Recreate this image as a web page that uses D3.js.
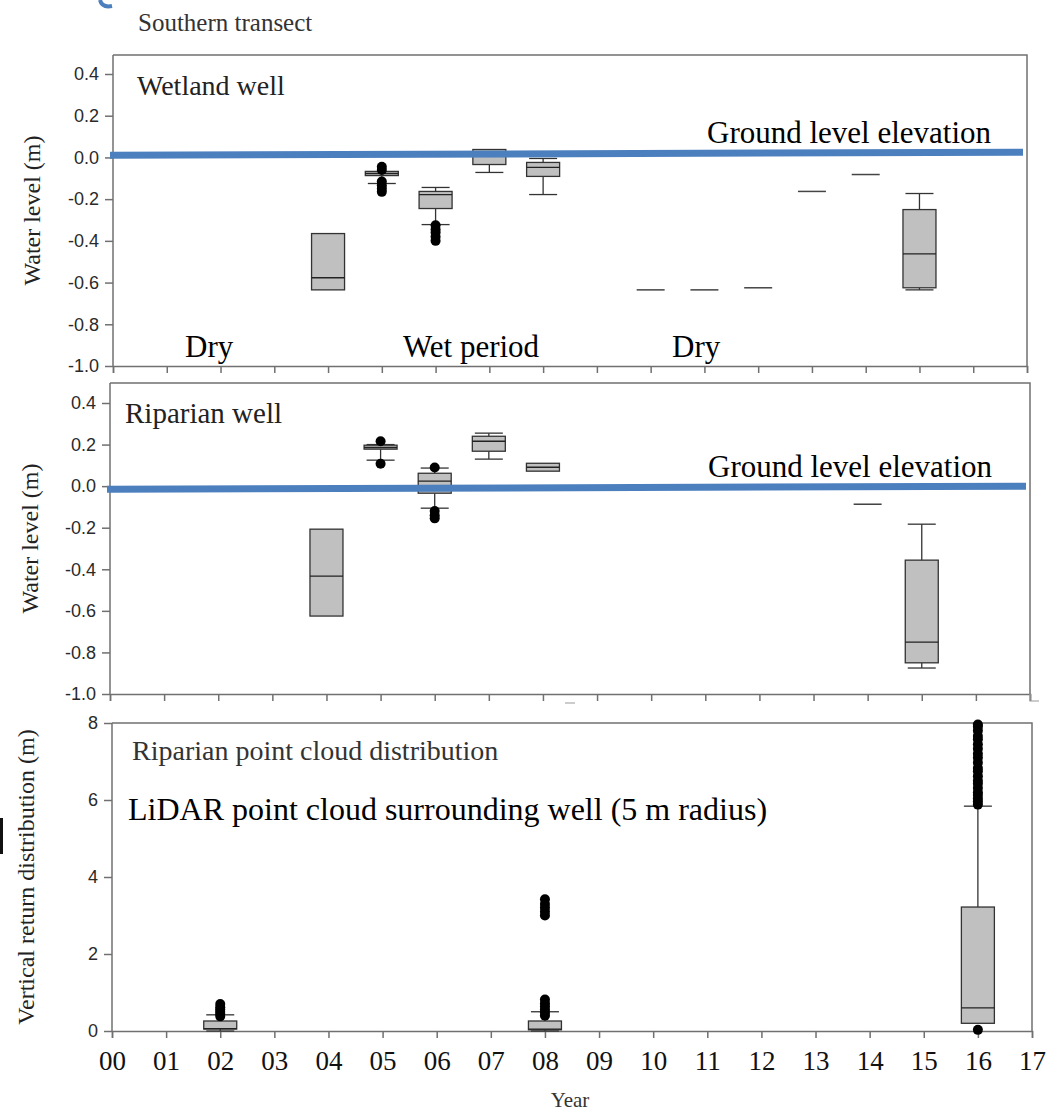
<!DOCTYPE html>
<html>
<head>
<meta charset="utf-8">
<script src="https://cdn.jsdelivr.net/npm/d3@7"></script>
<style>
  body { margin: 0; background: #fff; }
  svg { display: block; }
</style>
</head>
<body>
<svg id="chart" width="1055" height="1115"></svg>
<script>
// year ticks shared by every panel
var yearLabels = ["00", "01", "02", "03", "04", "05", "06", "07", "08", "09",
  "10", "11", "12", "13", "14", "15", "16", "17"];
var levelTicks = [-1.0, -0.8, -0.6, -0.4, -0.2, 0.0, 0.2, 0.4];
var returnTicks = [0, 2, 4, 6, 8];

// ground level line (value at left edge, value at right edge)
var wetlandGround = [0.01, 0.025];
var riparianGround = [-0.015, 0.0];

// box stats
var wetlandBoxes = [
  { year: 4, min: -0.635, q1: -0.635, med: -0.577, q3: -0.365, max: -0.365, out: [] },
  { year: 5, min: -0.125, q1: -0.087, med: -0.077, q3: -0.067, max: -0.067, out: [-0.045, -0.06, -0.115, -0.135, -0.15, -0.165] },
  { year: 6, min: -0.322, q1: -0.245, med: -0.178, q3: -0.163, max: -0.144, out: [-0.325, -0.345, -0.36, -0.38, -0.4] },
  { year: 7, min: -0.072, q1: -0.034, med: 0.01, q3: 0.038, max: 0.038, out: [] },
  { year: 8, min: -0.178, q1: -0.091, med: -0.048, q3: -0.024, max: -0.005, out: [] },
  { year: 10, min: -0.635, q1: -0.635, med: -0.635, q3: -0.635, max: -0.635, out: [] },
  { year: 11, min: -0.635, q1: -0.635, med: -0.635, q3: -0.635, max: -0.635, out: [] },
  { year: 12, min: -0.625, q1: -0.625, med: -0.625, q3: -0.625, max: -0.625, out: [] },
  { year: 13, min: -0.163, q1: -0.163, med: -0.163, q3: -0.163, max: -0.163, out: [] },
  { year: 14, min: -0.082, q1: -0.082, med: -0.082, q3: -0.082, max: -0.082, out: [] },
  { year: 15, min: -0.635, q1: -0.625, med: -0.462, q3: -0.25, max: -0.173, out: [] }
];

var riparianBoxes = [
  { year: 4, min: -0.625, q1: -0.625, med: -0.433, q3: -0.207, max: -0.207, out: [] },
  { year: 5, min: 0.125, q1: 0.178, med: 0.186, q3: 0.197, max: 0.2, out: [0.216, 0.108] },
  { year: 6, min: -0.106, q1: -0.034, med: 0.024, q3: 0.062, max: 0.087, out: [0.09, -0.12, -0.14, -0.155] },
  { year: 7, min: 0.13, q1: 0.168, med: 0.216, q3: 0.24, max: 0.255, out: [] },
  { year: 8, min: 0.072, q1: 0.072, med: 0.091, q3: 0.11, max: 0.11, out: [] },
  { year: 14, min: -0.087, q1: -0.087, med: -0.087, q3: -0.087, max: -0.087, out: [] },
  { year: 15, min: -0.875, q1: -0.85, med: -0.75, q3: -0.356, max: -0.183, out: [] }
];

var cloudBoxes = [
  { year: 2, min: 0.0, q1: 0.05, med: 0.06, q3: 0.26, max: 0.42, out: [0.38, 0.45, 0.5, 0.56, 0.62, 0.7] },
  { year: 8, min: 0.0, q1: 0.03, med: 0.05, q3: 0.26, max: 0.5, out: [0.4, 0.48, 0.56, 0.64, 0.72, 0.82, 3.0, 3.1, 3.2, 3.3, 3.42] },
  { year: 16, min: 0.2, q1: 0.2, med: 0.6, q3: 3.22, max: 5.84, out: [0.03, 5.88, 5.96, 6.04, 6.13, 6.2, 6.31, 6.42, 6.5, 6.62, 6.75, 6.83, 6.97, 7.1, 7.2, 7.33, 7.45, 7.58, 7.66, 7.8, 7.9, 7.96] }
];

var svg = d3.select("#chart");
var serif = "'Liberation Serif', 'Times New Roman', serif";
var sans = "'Liberation Sans', Arial, sans-serif";
var axisColor = "#707070";
var blue = "#4c7fbe";

function drawPanel(p) {
  var x = d3.scaleLinear().domain([0, 17]).range([p.left, p.right]);
  var y = d3.scaleLinear().domain(p.domain).range(p.yRange);
  var g = svg.append("g");

  // frame top + right
  g.append("path")
    .attr("d", "M" + p.left + "," + p.frameTop + "H" + p.right + "V" + y(p.domain[0]))
    .attr("fill", "none")
    .attr("stroke", axisColor)
    .attr("stroke-width", 1.5);

  var yAxis = g.append("g")
    .attr("transform", "translate(" + p.left + ",0)")
    .call(d3.axisLeft(y).tickValues(p.ticks).tickSize(8).tickPadding(6).tickFormat(p.fmt));
  yAxis.select(".domain").attr("d", "M0," + p.frameTop + "V" + y(p.domain[0]));

  var xAxis = g.append("g")
    .attr("transform", "translate(0," + y(p.domain[0]) + ")")
    .call(d3.axisBottom(x).tickValues(d3.range(0, 18)).tickSize(7).tickPadding(13)
      .tickFormat(function(d) { return p.showYears ? yearLabels[d] : ""; }));

  [yAxis, xAxis].forEach(function(a) {
    a.selectAll(".domain, line").attr("stroke", axisColor).attr("stroke-width", 1.5);
  });
  yAxis.selectAll("text")
    .attr("font-family", sans).attr("font-size", 18).attr("fill", "#2a2a2a");
  xAxis.selectAll("text")
    .attr("font-family", serif).attr("font-size", 27).attr("fill", "#111");

  var boxW = 33, capW = 28;
  var box = g.selectAll(".box").data(p.boxes).enter().append("g");

  box.each(function(d) {
    var s = d3.select(this), cx = x(d.year);
    var stroke = "#333";
    if (d.max > d.q3) {
      s.append("line").attr("x1", cx).attr("x2", cx).attr("y1", y(d.q3)).attr("y2", y(d.max))
        .attr("stroke", stroke).attr("stroke-width", 1.3);
      s.append("line").attr("x1", cx - capW / 2).attr("x2", cx + capW / 2).attr("y1", y(d.max)).attr("y2", y(d.max))
        .attr("stroke", stroke).attr("stroke-width", 1.3);
    }
    if (d.min < d.q1) {
      s.append("line").attr("x1", cx).attr("x2", cx).attr("y1", y(d.q1)).attr("y2", y(d.min))
        .attr("stroke", stroke).attr("stroke-width", 1.3);
      s.append("line").attr("x1", cx - capW / 2).attr("x2", cx + capW / 2).attr("y1", y(d.min)).attr("y2", y(d.min))
        .attr("stroke", stroke).attr("stroke-width", 1.3);
    }
    if (d.q3 > d.q1) {
      s.append("rect").attr("x", cx - boxW / 2).attr("width", boxW)
        .attr("y", y(d.q3)).attr("height", y(d.q1) - y(d.q3))
        .attr("fill", "#c0c0c0").attr("stroke", stroke).attr("stroke-width", 1.3);
      s.append("line").attr("x1", cx - boxW / 2).attr("x2", cx + boxW / 2).attr("y1", y(d.med)).attr("y2", y(d.med))
        .attr("stroke", "#222").attr("stroke-width", 1.3);
    } else {
      s.append("line").attr("x1", cx - capW / 2).attr("x2", cx + capW / 2).attr("y1", y(d.med)).attr("y2", y(d.med))
        .attr("stroke", "#444").attr("stroke-width", 1.5);
    }
    s.selectAll("circle").data(d.out).enter().append("circle")
      .attr("cx", cx).attr("cy", function(v) { return y(v); }).attr("r", 5).attr("fill", "#000");
  });

  if (p.ground) {
    g.append("line")
      .attr("x1", p.left - 3).attr("x2", p.right - 4)
      .attr("y1", y(p.ground[0])).attr("y2", y(p.ground[1]))
      .attr("stroke", blue).attr("stroke-width", 7);
  }

  g.append("text")
    .attr("transform", "translate(" + p.titleX + "," + (p.yRange[0] + p.frameTop) / 2 + ") rotate(-90)")
    .attr("text-anchor", "middle")
    .attr("font-family", serif).attr("font-size", 24).attr("fill", "#222")
    .text(p.yTitle);

  p.notes.forEach(function(n) {
    g.append("text").attr("x", n[0]).attr("y", n[1])
      .attr("font-family", serif).attr("font-size", n[2]).attr("fill", n[4] || "#000")
      .text(n[3]);
  });
}

var fmtLevel = function(d) { return d.toFixed(1); };

drawPanel({
  left: 113, right: 1027, frameTop: 55, domain: [-1, 0.4], yRange: [366, 74],
  ticks: levelTicks, fmt: fmtLevel, boxes: wetlandBoxes, ground: wetlandGround,
  showYears: false, titleX: 40, yTitle: "Water level (m)",
  notes: [
    [137, 95, 28, "Wetland well", "#222"],
    [707, 143, 31, "Ground level elevation"],
    [185, 357, 31, "Dry"],
    [403, 357, 31, "Wet period"],
    [672, 357, 31, "Dry"]
  ]
});

drawPanel({
  left: 110, right: 1030, frameTop: 383, domain: [-1, 0.4], yRange: [694, 403],
  ticks: levelTicks, fmt: fmtLevel, boxes: riparianBoxes, ground: riparianGround,
  showYears: false, titleX: 38, yTitle: "Water level (m)",
  notes: [
    [125, 423, 29, "Riparian well", "#222"],
    [708, 477, 31, "Ground level elevation"]
  ]
});

drawPanel({
  left: 112, right: 1032, frameTop: 723, domain: [0, 8], yRange: [1031, 723],
  ticks: returnTicks, fmt: d3.format("d"), boxes: cloudBoxes, ground: null,
  showYears: true, titleX: 34, yTitle: "Vertical return distribution (m)",
  notes: [
    [132, 760, 28, "Riparian point cloud distribution", "#333"],
    [128, 820, 32, "LiDAR point cloud surrounding well (5 m radius)"]
  ]
});

svg.append("text")
  .attr("x", 138).attr("y", 31)
  .attr("font-family", serif).attr("font-size", 25).attr("fill", "#333")
  .text("Southern transect");

svg.append("text")
  .attr("x", 570).attr("y", 1107)
  .attr("text-anchor", "middle")
  .attr("font-family", serif).attr("font-size", 21).attr("fill", "#333")
  .text("Year");

// cropping leftovers in the source image
svg.append("path")
  .attr("d", "M100,0 Q102,8 112,6")
  .attr("fill", "none").attr("stroke", blue).attr("stroke-width", 4);
svg.append("rect")
  .attr("x", 0).attr("y", 818).attr("width", 3).attr("height", 36)
  .attr("fill", "#111");
svg.append("path")
  .attr("d", "M1030,694V701H1039M565,703H575")
  .attr("fill", "none").attr("stroke", "#999").attr("stroke-width", 1.2);
</script>
</body>
</html>
